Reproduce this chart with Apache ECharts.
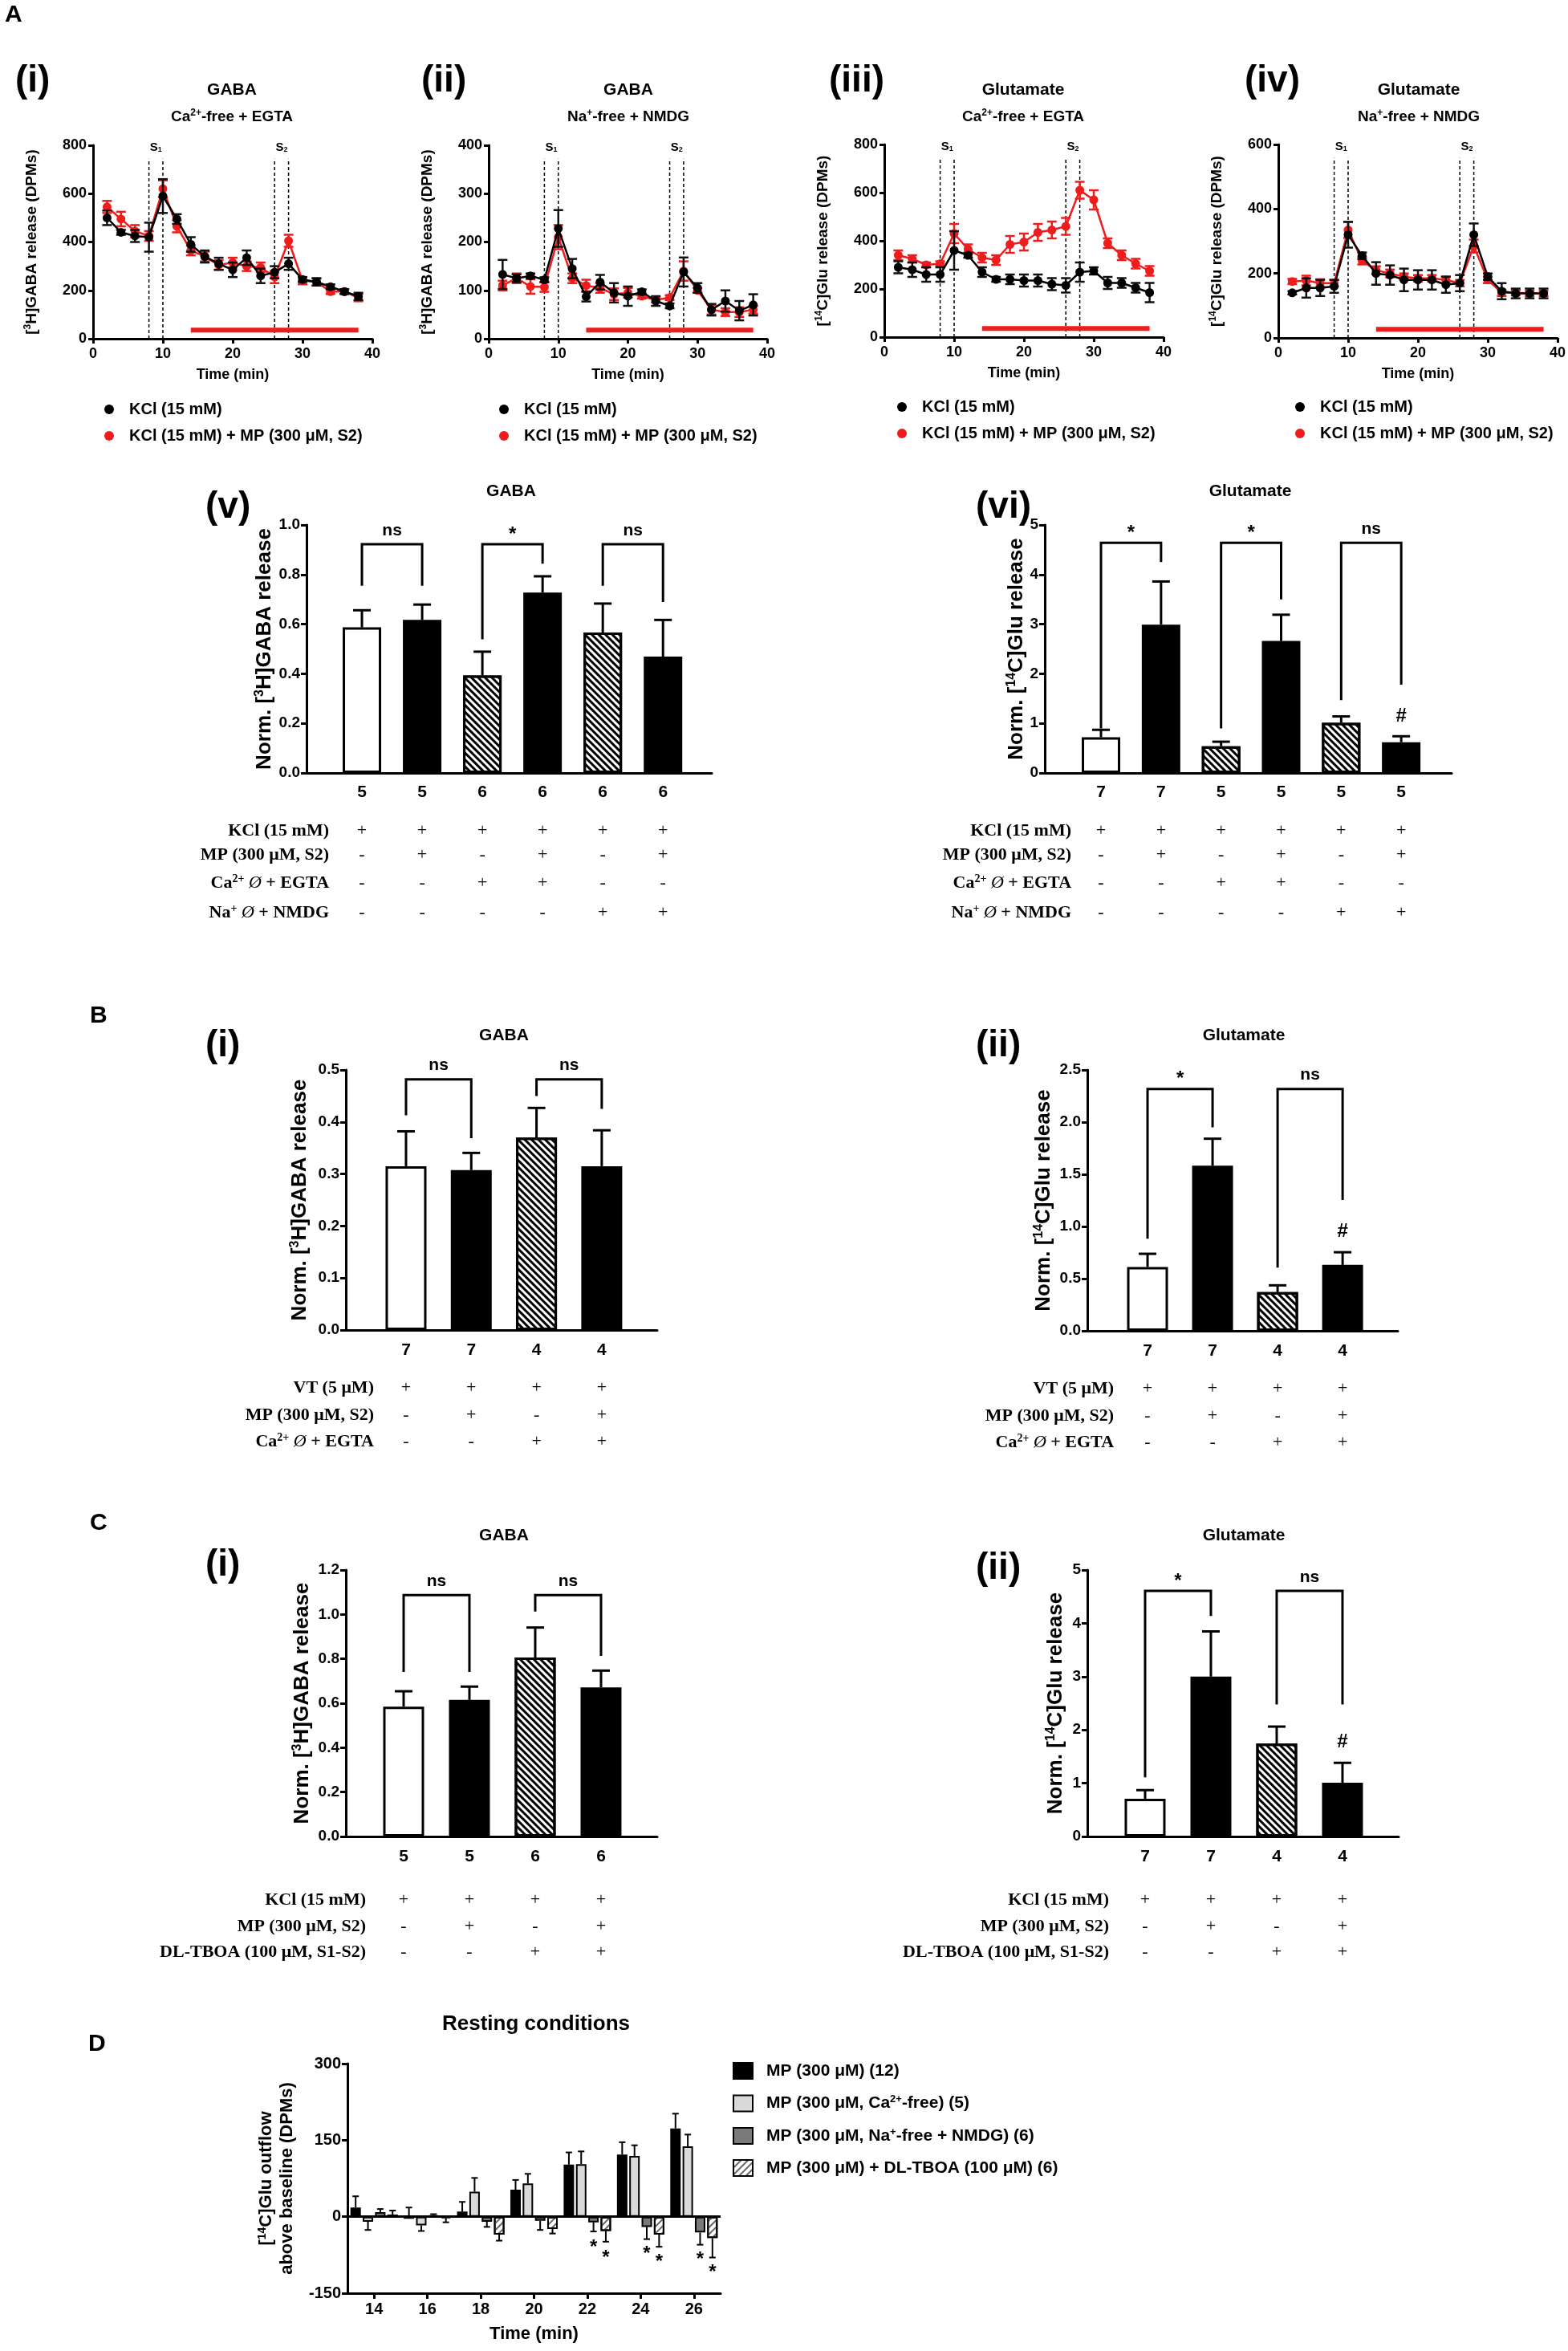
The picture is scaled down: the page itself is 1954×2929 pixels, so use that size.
<!DOCTYPE html>
<html><head><meta charset="utf-8">
<script src="https://cdn.jsdelivr.net/npm/echarts@6/dist/echarts.min.js"></script>
<style>html,body{margin:0;padding:0;background:#fff}#c{width:1954px;height:2929px}</style>
</head><body><div id="c"></div>
<script>
// ================= DATA =================
// Panel A time courses
const timeA = [2,4,6,8,10,12,14,16,18,20,22,24,26,28,30,32,34,36,38];
const stimTimes = [8,10,26,28];
const sLabelTimes = [9,27];
const sLabels = ['S{sub|1}','S{sub|2}'];
const mpPeriod = [14,38];
// (i) GABA, Ca2+-free + EGTA
const gabaCaKCl    = [500,440,425,420,590,495,390,340,310,285,335,260,275,310,245,235,215,195,175];
const gabaCaKClSem = [30,10,25,60,70,20,30,25,25,30,30,30,25,25,10,15,10,10,15];
const gabaCaMP     = [545,495,445,425,620,465,365,340,305,315,300,295,255,405,240,235,195,195,170];
const gabaCaMPSem  = [25,30,25,20,35,25,20,20,20,20,20,20,25,25,15,15,10,10,15];
// (ii) GABA, Na+-free + NMDG
const gabaNaKCl    = [133,125,130,122,228,145,87,117,95,88,97,78,68,138,105,60,78,58,70];
const gabaNaKClSem = [30,8,5,5,38,20,10,15,20,20,5,10,5,30,10,12,22,20,22];
const gabaNaMP     = [110,125,108,107,210,125,110,105,92,95,88,80,85,140,100,60,55,55,60];
const gabaNaMPSem  = [10,10,15,10,25,10,12,10,12,10,5,5,5,20,5,10,8,10,8];
// (iii) Glutamate, Ca2+-free + EGTA
const gluCaKCl     = [290,280,260,260,360,340,270,240,240,235,235,220,215,270,275,225,225,205,185];
const gluCaKClSem  = [25,30,30,30,80,10,20,10,20,25,25,25,30,40,15,25,20,20,40];
const gluCaMP      = [340,325,300,305,430,365,330,320,385,395,435,445,460,610,570,390,340,305,275];
const gluCaMPSem   = [20,15,10,10,40,20,20,20,35,35,35,35,35,35,40,20,20,20,20];
// (iv) Glutamate, Na+-free + NMDG
const gluNaKCl     = [140,155,155,160,320,255,200,195,180,180,180,165,170,320,190,145,138,138,138];
const gluNaKClSem  = [5,30,25,20,40,10,35,30,35,30,30,25,25,35,10,25,15,15,15];
const gluNaMP      = [175,178,170,170,335,240,210,200,190,185,185,180,170,285,180,140,140,138,138];
const gluNaMPSem   = [8,15,12,10,25,12,12,12,10,10,10,10,10,20,10,10,8,8,8];

// (v) GABA normalised
const vN    = [5,5,6,6,6,6];
const vMean = [0.587,0.617,0.393,0.727,0.566,0.469];
const vSem  = [0.069,0.062,0.096,0.066,0.117,0.148];
const vBrackets = [[1,2,0.922,0.755,0.755],[3,4,0.922,0.539,0.844],[5,6,0.922,0.755,0.689]];
const vBracketText = ['ns','*','ns'];
const vHash = [];
// (vi) Glutamate normalised
const viN    = [7,7,5,5,5,5];
const viMean = [0.72,2.99,0.54,2.66,1.01,0.62];
const viSem  = [0.15,0.87,0.09,0.53,0.13,0.12];
const viBrackets = [[1,2,4.64,0.9,4.25],[3,4,4.64,0.9,3.5],[5,6,4.64,1.47,1.78]];
const viBracketText = ['*','*','ns'];
const viHash = [[6,1.15]];
const aRowNames = ['KCl (15 mM)','MP (300 μM, S2)','Ca{sup|2+} {it|Ø} + EGTA','Na{sup|+} {it|Ø} + NMDG'];
const aRows = [['+','+','+','+','+','+'],['-','+','-','+','-','+'],['-','-','+','+','-','-'],['-','-','-','-','+','+']];

// B
const biN    = [7,7,4,4];
const biMean = [0.315,0.3075,0.370,0.315];
const biSem  = [0.067,0.033,0.057,0.069];
const biBrackets = [[1,2,0.482,0.413,0.369],[3,4,0.482,0.450,0.425]];
const biBracketText = ['ns','ns'];
const biiN    = [7,7,4,4];
const biiMean = [0.612,1.582,0.371,0.632];
const biiSem  = [0.126,0.259,0.065,0.121];
const biiBrackets = [[1,2,2.318,0.882,1.95],[3,4,2.318,0.606,1.253]];
const biiBracketText = ['*','ns'];
const biiHash = [[4,0.95]];
const bRowNames = ['VT (5 μM)','MP (300 μM, S2)','Ca{sup|2+} {it|Ø} + EGTA'];
const bRows = [['+','+','+','+'],['-','+','-','+'],['-','-','+','+']];

// C
const ciN    = [5,5,6,6];
const ciMean = [0.585,0.615,0.806,0.671];
const ciSem  = [0.069,0.060,0.135,0.076];
const ciBrackets = [[1,2,1.087,0.741,0.741],[3,4,1.087,1.013,0.813]];
const ciBracketText = ['ns','ns'];
const ciiN    = [7,7,4,4];
const ciiMean = [0.709,3.0,1.745,1.008];
const ciiSem  = [0.161,0.848,0.317,0.374];
const ciiBrackets = [[1,2,4.608,1.112,4.136],[3,4,4.608,2.477,2.477]];
const ciiBracketText = ['*','ns'];
const ciiHash = [[4,1.774]];
const cRowNames = ['KCl (15 mM)','MP (300 μM, S2)','DL-TBOA (100 μM, S1-S2)'];
const cRows = [['+','+','+','+'],['-','+','-','+'],['-','-','+','+']];

// D resting conditions
const dTimes = ['14','16','18','20','22','24','26'];
const dSeriesNames = ['MP (300 μM) (12)','MP (300 μM, Ca2+-free) (5)','MP (300 μM, Na+-free + NMDG) (6)','MP (300 μM) + DL-TBOA (100 μM) (6)'];
const dMP        = [18,-4,10,53,102,122,173];
const dMPErrEnd  = [40,18,29,72,126,146,202];
const dCa        = [-10,-17,49,65,103,119,138];
const dCaErrEnd  = [-26,-28,76,84,128,140,161];
const dNa        = [9,3,-10,-8,-11,-20,-31];
const dNaErrEnd  = [15,5,-20,-26,-29,-44,-55];
const dTboa      = [4,-3,-35,-24,-28,-35,-42];
const dTboaErrEnd= [12,-11,-47,-33,-49,-59,-80];
const dStarNa    = [[4,-53],[5,-66],[6,-76]];
const dStarTboa  = [[4,-73],[5,-81],[6,-102]];

// ================= BUILD =================
const SANS = '"Liberation Sans", Arial, Helvetica, sans-serif';
const SERIF = '"Liberation Serif", "Times New Roman", serif';
const RED = '#ee1c1c';
const option = {animation:false, backgroundColor:'#fff', title:[], grid:[], xAxis:[], yAxis:[], series:[], legend:[]};

function supRich(size, family, raise, baseSize){
  return {sup:{fontFamily:family||SANS, fontWeight:'bold', fontSize:size, padding:[0,0,raise,0]},
          sub:{fontFamily:family||SANS, fontWeight:'bold', fontSize:size, padding:[raise,0,0,0]},
          it:{fontFamily:family||SANS, fontWeight:'normal', fontStyle:'italic', fontSize:baseSize||size}};
}
function addTitle(text, left, top, size, align){
  option.title.push({text, left, top, padding:0, textAlign:align||'left',
    textStyle:{fontFamily:SANS, fontWeight:'bold', fontSize:size, color:'#000', rich:supRich(Math.round(size*0.62), SANS, Math.round(size*0.45), size)}});
}
function textSeries(gi, items, z){
  option.series.push({type:'custom', xAxisIndex:gi, yAxisIndex:gi, silent:true, z:z||6, clip:false,
    data: items.map(it=>[it.x, it.y]),
    renderItem:(params, api)=>{
      const it = items[params.dataIndex];
      const p = api.coord([api.value(0), api.value(1)]);
      const al = it.align||'center';
      return {type:'text', x:p[0]+(it.dx||0), y:p[1]+(it.dy||0), style:{text:it.text, fill:'#000',
        fontSize:it.size, fontWeight:it.weight||'bold', fontFamily:it.family||SANS,
        align:al, textAlign:al, verticalAlign:'middle', textVerticalAlign:'middle',
        rich: supRich(Math.round(it.size*0.62), it.family||SANS, Math.round(it.size*0.45), it.size)}};
    }});
}

// ---------- Panel A line charts ----------
function errRenderA(color){
  return (params, api)=>{
    const x=api.value(0), m=api.value(1), s=api.value(2);
    const lo=api.coord([x,m-s]), hi=api.coord([x,m+s]);
    const cw=6, st={stroke:color, lineWidth:2.5};
    return {type:'group', children:[
      {type:'line', shape:{x1:lo[0],y1:lo[1],x2:hi[0],y2:hi[1]}, style:st},
      {type:'line', shape:{x1:lo[0]-cw,y1:lo[1],x2:lo[0]+cw,y2:lo[1]}, style:st},
      {type:'line', shape:{x1:hi[0]-cw,y1:hi[1],x2:hi[0]+cw,y2:hi[1]}, style:st}]};
  };
}
const aCharts = [
  {left:116, top:181, width:348, height:241, yMax:800, yInt:200, yName:'[{sup|3}H]GABA release (DPMs)', kcl:gabaCaKCl, kclSem:gabaCaKClSem, mp:gabaCaMP, mpSem:gabaCaMPSem, legLeft:130, legTop:500, tx:289, t1:'GABA', t2:'Ca{sup|2+}-free + EGTA', lab:'(i)', labX:19},
  {left:609, top:181, width:347, height:241, yMax:400, yInt:100, yName:'[{sup|3}H]GABA release (DPMs)', kcl:gabaNaKCl, kclSem:gabaNaKClSem, mp:gabaNaMP, mpSem:gabaNaMPSem, legLeft:622, legTop:500, tx:783, t1:'GABA', t2:'Na{sup|+}-free + NMDG', lab:'(ii)', labX:525},
  {left:1102, top:180, width:348, height:240, yMax:800, yInt:200, yName:'[{sup|14}C]Glu release (DPMs)', kcl:gluCaKCl, kclSem:gluCaKClSem, mp:gluCaMP, mpSem:gluCaMPSem, legLeft:1118, legTop:497, tx:1275, t1:'Glutamate', t2:'Ca{sup|2+}-free + EGTA', lab:'(iii)', labX:1033},
  {left:1593, top:180, width:348, height:241, yMax:600, yInt:200, yName:'[{sup|14}C]Glu release (DPMs)', kcl:gluNaKCl, kclSem:gluNaKClSem, mp:gluNaMP, mpSem:gluNaMPSem, legLeft:1614, legTop:497, tx:1768, t1:'Glutamate', t2:'Na{sup|+}-free + NMDG', lab:'(iv)', labX:1551}
];
addTitle('A', 6, 4, 30);
aCharts.forEach(c=>{
  const gi = option.grid.length;
  option.grid.push({left:c.left, top:c.top, width:c.width, height:c.height, containLabel:false, outerBoundsMode:'none'});
  option.xAxis.push({type:'value', gridIndex:gi, min:0, max:40, interval:10, name:'Time (min)', nameLocation:'middle', nameGap:36,
    nameTextStyle:{fontFamily:SANS, fontWeight:'bold', fontSize:18, color:'#000'},
    axisLine:{onZero:false, lineStyle:{color:'#000', width:3}}, axisTick:{length:6, lineStyle:{color:'#000', width:3}},
    axisLabel:{fontFamily:SANS, fontWeight:'bold', fontSize:18, color:'#000', margin:10}, splitLine:{show:false}});
  option.yAxis.push({type:'value', gridIndex:gi, min:0, max:c.yMax, interval:c.yInt, name:c.yName, nameLocation:'middle', nameGap:66,
    nameTextStyle:{fontFamily:SANS, fontWeight:'bold', fontSize:19, color:'#000', rich:supRich(12, SANS, 9)},
    axisLine:{show:true, lineStyle:{color:'#000', width:3}}, axisTick:{show:true, length:6, lineStyle:{color:'#000', width:3}},
    axisLabel:{fontFamily:SANS, fontWeight:'bold', fontSize:18, color:'#000', margin:8}, splitLine:{show:false}});
  // stimulation dashed lines
  const top = c.yMax*0.93;
  option.series.push({type:'custom', xAxisIndex:gi, yAxisIndex:gi, silent:true, z:1,
    data: stimTimes.map(t=>[t,0]),
    renderItem:(params, api)=>{ const a=api.coord([api.value(0),0]), b=api.coord([api.value(0),top]);
      return {type:'line', shape:{x1:a[0],y1:a[1],x2:b[0],y2:b[1]}, style:{stroke:'#000', lineWidth:1.5, lineDash:[4,3]}}; }});
  textSeries(gi, sLabelTimes.map((t,i)=>({x:t, y:c.yMax*0.99, text:sLabels[i], size:15})));
  // MP application bar
  option.series.push({type:'line', xAxisIndex:gi, yAxisIndex:gi, silent:true, symbol:'none', z:1,
    data: mpPeriod.map(t=>[t, c.yMax*0.045]), lineStyle:{color:RED, width:6}});
  // red series
  option.series.push({type:'custom', xAxisIndex:gi, yAxisIndex:gi, silent:true, z:2,
    data: timeA.map((t,i)=>[t, c.mp[i], c.mpSem[i]]), renderItem: errRenderA(RED)});
  option.series.push({type:'line', name:'KCl (15 mM) + MP (300 μM, S2)', xAxisIndex:gi, yAxisIndex:gi, z:3,
    data: timeA.map((t,i)=>[t, c.mp[i]]), symbol:'circle', symbolSize:11, itemStyle:{color:RED}, lineStyle:{color:RED, width:2.5}});
  // black series
  option.series.push({type:'custom', xAxisIndex:gi, yAxisIndex:gi, silent:true, z:4,
    data: timeA.map((t,i)=>[t, c.kcl[i], c.kclSem[i]]), renderItem: errRenderA('#111')});
  option.series.push({type:'line', name:'KCl (15 mM)', xAxisIndex:gi, yAxisIndex:gi, z:5,
    data: timeA.map((t,i)=>[t, c.kcl[i]]), symbol:'circle', symbolSize:11, itemStyle:{color:'#000'}, lineStyle:{color:'#000', width:2.5}});
  option.legend.push({data:['KCl (15 mM)','KCl (15 mM) + MP (300 μM, S2)'], orient:'vertical', left:c.legLeft, top:c.legTop,
    icon:'circle', itemWidth:12, itemHeight:12, itemGap:13, selectedMode:false, padding:0,
    textStyle:{fontFamily:SANS, fontWeight:'bold', fontSize:20, lineHeight:20, color:'#000', padding:[0,0,0,14]}});
  addTitle(c.lab, c.labX, 78, 46);
  addTitle(c.t1, c.tx, 102, 21, 'center');
  addTitle(c.t2, c.tx, 135, 19, 'center');
});

// ---------- bar panels ----------
function fillStyle(kind){
  if (kind==='open') return {color:'#fff', borderColor:'#000', borderWidth:3};
  if (kind==='solid') return {color:'#000', borderColor:'#000', borderWidth:0};
  return {color:'#fff', borderColor:'#000', borderWidth:3,
    decal:{symbol:'rect', symbolSize:1, dashArrayX:[1,0], dashArrayY:[3,3], rotation:Math.PI/4, color:'#000'}};
}
function addBarPanel(p){
  const gi = option.grid.length;
  option.grid.push({left:p.left, top:p.top, width:p.width, height:p.height, containLabel:false, outerBoundsMode:'none'});
  option.xAxis.push({type:'value', gridIndex:gi, min:p.xMin, max:p.xMax, axisLine:{onZero:false, lineStyle:{color:'#000', width:3}},
    axisTick:{show:false}, axisLabel:{show:false}, splitLine:{show:false}});
  option.yAxis.push({type:'value', gridIndex:gi, min:0, max:p.yMax, interval:p.yInt, name:p.yName, nameLocation:'middle', nameGap:p.nameGap,
    nameTextStyle:{fontFamily:SANS, fontWeight:'bold', fontSize:26, color:'#000', rich:supRich(16, SANS, 12)},
    axisLine:{show:true, lineStyle:{color:'#000', width:3}}, axisTick:{show:true, length:7, lineStyle:{color:'#000', width:3}},
    axisLabel:{fontFamily:SANS, fontWeight:'bold', fontSize:19, color:'#000', margin:8, formatter:v=>v.toFixed(p.dec)}, splitLine:{show:false}});
  option.series.push({type:'bar', xAxisIndex:gi, yAxisIndex:gi, barWidth:p.barW, z:2, silent:true,
    data: p.mean.map((m,i)=>({value:[i+1, m], itemStyle:fillStyle(p.fill[i])}))});
  // error bars
  option.series.push({type:'custom', xAxisIndex:gi, yAxisIndex:gi, silent:true, z:3,
    data: p.mean.map((m,i)=>[i+1, m, p.sem[i]]),
    renderItem:(params, api)=>{ const x=api.value(0), m=api.value(1), s=api.value(2);
      const a=api.coord([x,m]), b=api.coord([x,m+s]); const cw=11, st={stroke:'#000', lineWidth:3};
      return {type:'group', children:[{type:'line', shape:{x1:a[0],y1:a[1],x2:b[0],y2:b[1]}, style:st},
        {type:'line', shape:{x1:b[0]-cw,y1:b[1],x2:b[0]+cw,y2:b[1]}, style:st}]}; }});
  // significance brackets
  option.series.push({type:'custom', xAxisIndex:gi, yAxisIndex:gi, silent:true, z:4,
    data: p.brackets,
    renderItem:(params, api)=>{ const x1=api.value(0), x2=api.value(1), yt=api.value(2), yl=api.value(3), yr=api.value(4);
      const a=api.coord([x1,yl]), b=api.coord([x1,yt]), c=api.coord([x2,yt]), d=api.coord([x2,yr]);
      const t=p.bracketText[params.dataIndex];
      return {type:'group', children:[
        {type:'polyline', shape:{points:[a,b,c,d]}, style:{stroke:'#000', lineWidth:3, fill:null}},
        {type:'text', x:(b[0]+c[0])/2, y:b[1]-(t==='*'?12:17), style:{text:t, fill:'#000', fontFamily:SANS, fontWeight:'bold', fontSize:t==='*'?24:21,
          align:'center', textAlign:'center', verticalAlign:'middle', textVerticalAlign:'middle'}}]}; }});
  // n labels, hash marks, condition table
  const items = [];
  p.n.forEach((n,i)=>items.push({x:i+1, y:0, text:String(n), dy:p.nOff, size:21}));
  (p.hash||[]).forEach(h=>items.push({x:h[0], y:h[1], text:'#', size:24}));
  p.rowNames.forEach((nm,r)=>{
    items.push({x:1, y:0, text:nm, dx:-p.rowDx, dy:p.rowOff[r], size:22, family:SERIF, align:'right'});
    p.rows[r].forEach((v,i)=>items.push({x:i+1, y:0, text:v, dy:p.rowOff[r], size:22, family:SERIF, weight:'normal'}));
  });
  textSeries(gi, items, 6);
  addTitle(p.lab, p.labX, p.labTop, 46);
  addTitle(p.title, p.titleX, p.titleTop, 21, 'center');
}
const fill6 = ['open','solid','hatch','solid','hatch','solid'];
const fill4 = ['open','solid','hatch','solid'];
addBarPanel({left:382, top:654, width:505, height:309, xMin:0.08, xMax:6.81, yMax:1.0, yInt:0.2, dec:1, yName:'Norm. [{sup|3}H]GABA release', nameGap:38,
  barW:48, mean:vMean, sem:vSem, n:vN, fill:fill6, brackets:vBrackets, bracketText:vBracketText, hash:vHash,
  rowNames:aRowNames, rows:aRows, rowOff:[72,102,137,174], rowDx:41, nOff:24, lab:'(v)', labX:256, labTop:609, title:'GABA', titleX:637, titleTop:602});
addBarPanel({left:1302, top:654, width:507, height:309, xMin:0.064, xMax:6.84, yMax:5, yInt:1, dec:0, yName:'Norm. [{sup|14}C]Glu release', nameGap:19,
  barW:48, mean:viMean, sem:viSem, n:viN, fill:fill6, brackets:viBrackets, bracketText:viBracketText, hash:viHash,
  rowNames:aRowNames, rows:aRows, rowOff:[72,102,137,174], rowDx:37, nOff:24, lab:'(vi)', labX:1216, labTop:609, title:'Glutamate', titleX:1558, titleTop:602});
addTitle('B', 112, 1251, 30);
addBarPanel({left:431, top:1333, width:388, height:324, xMin:0.078, xMax:4.85, yMax:0.5, yInt:0.1, dec:1, yName:'Norm. [{sup|3}H]GABA release', nameGap:43,
  barW:51, mean:biMean, sem:biSem, n:biN, fill:fill4, brackets:biBrackets, bracketText:biBracketText, hash:[],
  rowNames:bRowNames, rows:bRows, rowOff:[72,106,139], rowDx:40, nOff:25, lab:'(i)', labX:256, labTop:1280, title:'GABA', titleX:628, titleTop:1280});
addBarPanel({left:1355, top:1333, width:387, height:325, xMin:0.074, xMax:4.85, yMax:2.5, yInt:0.5, dec:1, yName:'Norm. [{sup|14}C]Glu release', nameGap:40,
  barW:51, mean:biiMean, sem:biiSem, n:biiN, fill:fill4, brackets:biiBrackets, bracketText:biiBracketText, hash:biiHash,
  rowNames:bRowNames, rows:bRows, rowOff:[72,106,139], rowDx:42, nOff:25, lab:'(ii)', labX:1216, labTop:1280, title:'Glutamate', titleX:1550, titleTop:1280});
addTitle('C', 112, 1883, 30);
addBarPanel({left:431, top:1956, width:388, height:332, xMin:0.122, xMax:4.854, yMax:1.2, yInt:0.2, dec:1, yName:'Norm. [{sup|3}H]GABA release', nameGap:40,
  barW:51, mean:ciMean, sem:ciSem, n:ciN, fill:fill4, brackets:ciBrackets, bracketText:ciBracketText, hash:[],
  rowNames:cRowNames, rows:cRows, rowOff:[79,112,144], rowDx:47, nOff:25, lab:'(i)', labX:256, labTop:1927, title:'GABA', titleX:628, titleTop:1903});
addBarPanel({left:1355, top:1956, width:388, height:332, xMin:0.122, xMax:4.854, yMax:5, yInt:1, dec:0, yName:'Norm. [{sup|14}C]Glu release', nameGap:25,
  barW:51, mean:ciiMean, sem:ciiSem, n:ciiN, fill:fill4, brackets:ciiBrackets, bracketText:ciiBracketText, hash:ciiHash,
  rowNames:cRowNames, rows:cRows, rowOff:[79,112,144], rowDx:45, nOff:25, lab:'(ii)', labX:1216, labTop:1931, title:'Glutamate', titleX:1550, titleTop:1903});

// ---------- Panel D ----------
(function(){
  const gi = option.grid.length;
  option.grid.push({left:433, top:2571, width:465, height:286, containLabel:false, outerBoundsMode:'none'});
  option.xAxis.push({type:'category', gridIndex:gi, data:dTimes, name:'Time (min)', nameLocation:'middle', nameGap:40,
    nameTextStyle:{fontFamily:SANS, fontWeight:'bold', fontSize:22, color:'#000'},
    axisLine:{onZero:false, lineStyle:{color:'#000', width:3}}, axisTick:{show:true, alignWithLabel:true, length:7, lineStyle:{color:'#000', width:3}},
    axisLabel:{fontFamily:SANS, fontWeight:'bold', fontSize:20, color:'#000', margin:10}, splitLine:{show:false}});
  option.yAxis.push({type:'value', gridIndex:gi, min:-150, max:300, interval:150, name:'[{sup|14}C]Glu outflow\nabove baseline (DPMs)', nameLocation:'middle', nameGap:62,
    nameTextStyle:{fontFamily:SANS, fontWeight:'bold', fontSize:22, lineHeight:26, color:'#000', rich:supRich(14, SANS, 10)},
    axisLine:{show:true, onZero:false, lineStyle:{color:'#000', width:3}}, axisTick:{show:true, length:7, lineStyle:{color:'#000', width:3}},
    axisLabel:{fontFamily:SANS, fontWeight:'bold', fontSize:20, color:'#000', margin:8}, splitLine:{show:false}});
  const BW = 13, GAP = 0.18;
  const styles = [
    {color:'#000', borderColor:'#000', borderWidth:2},
    {color:'#d9d9d9', borderColor:'#000', borderWidth:2},
    {color:'#7a7a7a', borderColor:'#000', borderWidth:2},
    {color:'#fff', borderColor:'#000', borderWidth:2, decal:{symbol:'rect', symbolSize:1, dashArrayX:[1,0], dashArrayY:[1.5,3.5], rotation:-Math.PI/4, color:'#666'}}
  ];
  const vals = [dMP, dCa, dNa, dTboa];
  const ends = [dMPErrEnd, dCaErrEnd, dNaErrEnd, dTboaErrEnd];
  vals.forEach((v,si)=>{
    const s = {type:'bar', name:dSeriesNames[si], xAxisIndex:gi, yAxisIndex:gi, barWidth:BW, barGap:(GAP*100)+'%', z:2, silent:true,
      itemStyle:styles[si], data:v};
    if (si===0) s.markLine = {silent:true, symbol:'none', label:{show:false}, lineStyle:{color:'#000', width:3, type:'solid'}, data:[{yAxis:0}]};
    option.series.push(s);
  });
  const step = BW*(1+GAP);
  const errData = [];
  vals.forEach((v,si)=>v.forEach((m,ci)=>errData.push([ci, m, ends[si][ci], si])));
  option.series.push({type:'custom', xAxisIndex:gi, yAxisIndex:gi, silent:true, z:3, data:errData,
    renderItem:(params, api)=>{ const ci=api.value(0), m=api.value(1), e=api.value(2), si=api.value(3);
      const off=(si-1.5)*step; const a=api.coord([ci,m]), b=api.coord([ci,e]); const x=a[0]+off, cw=4, st={stroke:'#000', lineWidth:2};
      return {type:'group', children:[{type:'line', shape:{x1:x,y1:a[1],x2:x,y2:b[1]}, style:st},
        {type:'line', shape:{x1:x-cw,y1:b[1],x2:x+cw,y2:b[1]}, style:st}]}; }});
  const stars = [];
  dStarNa.forEach(s=>stars.push({x:s[0], y:s[1], text:'*', size:24, dx:0.5*step, dy:5}));
  dStarTboa.forEach(s=>stars.push({x:s[0], y:s[1], text:'*', size:24, dx:1.5*step, dy:5}));
  textSeries(gi, stars, 6);
  option.legend.push({data:dSeriesNames, orient:'vertical', left:913, top:2569, icon:'rect', itemWidth:24, itemHeight:20, itemGap:18, selectedMode:false, padding:0,
    formatter:n=>n.replace('Ca2+','Ca{sup|2+}').replace('Na+','Na{sup|+}'),
    textStyle:{fontFamily:SANS, fontWeight:'bold', fontSize:21, lineHeight:22, color:'#000', padding:[0,0,0,12], rich:supRich(13, SANS, 10)}});
  addTitle('D', 110, 2532, 30);
  addTitle('Resting conditions', 668, 2509, 26, 'center');
})();

const chart = echarts.init(document.getElementById('c'), null, {renderer:'canvas'});
chart.setOption(option);
</script>
</body></html>
